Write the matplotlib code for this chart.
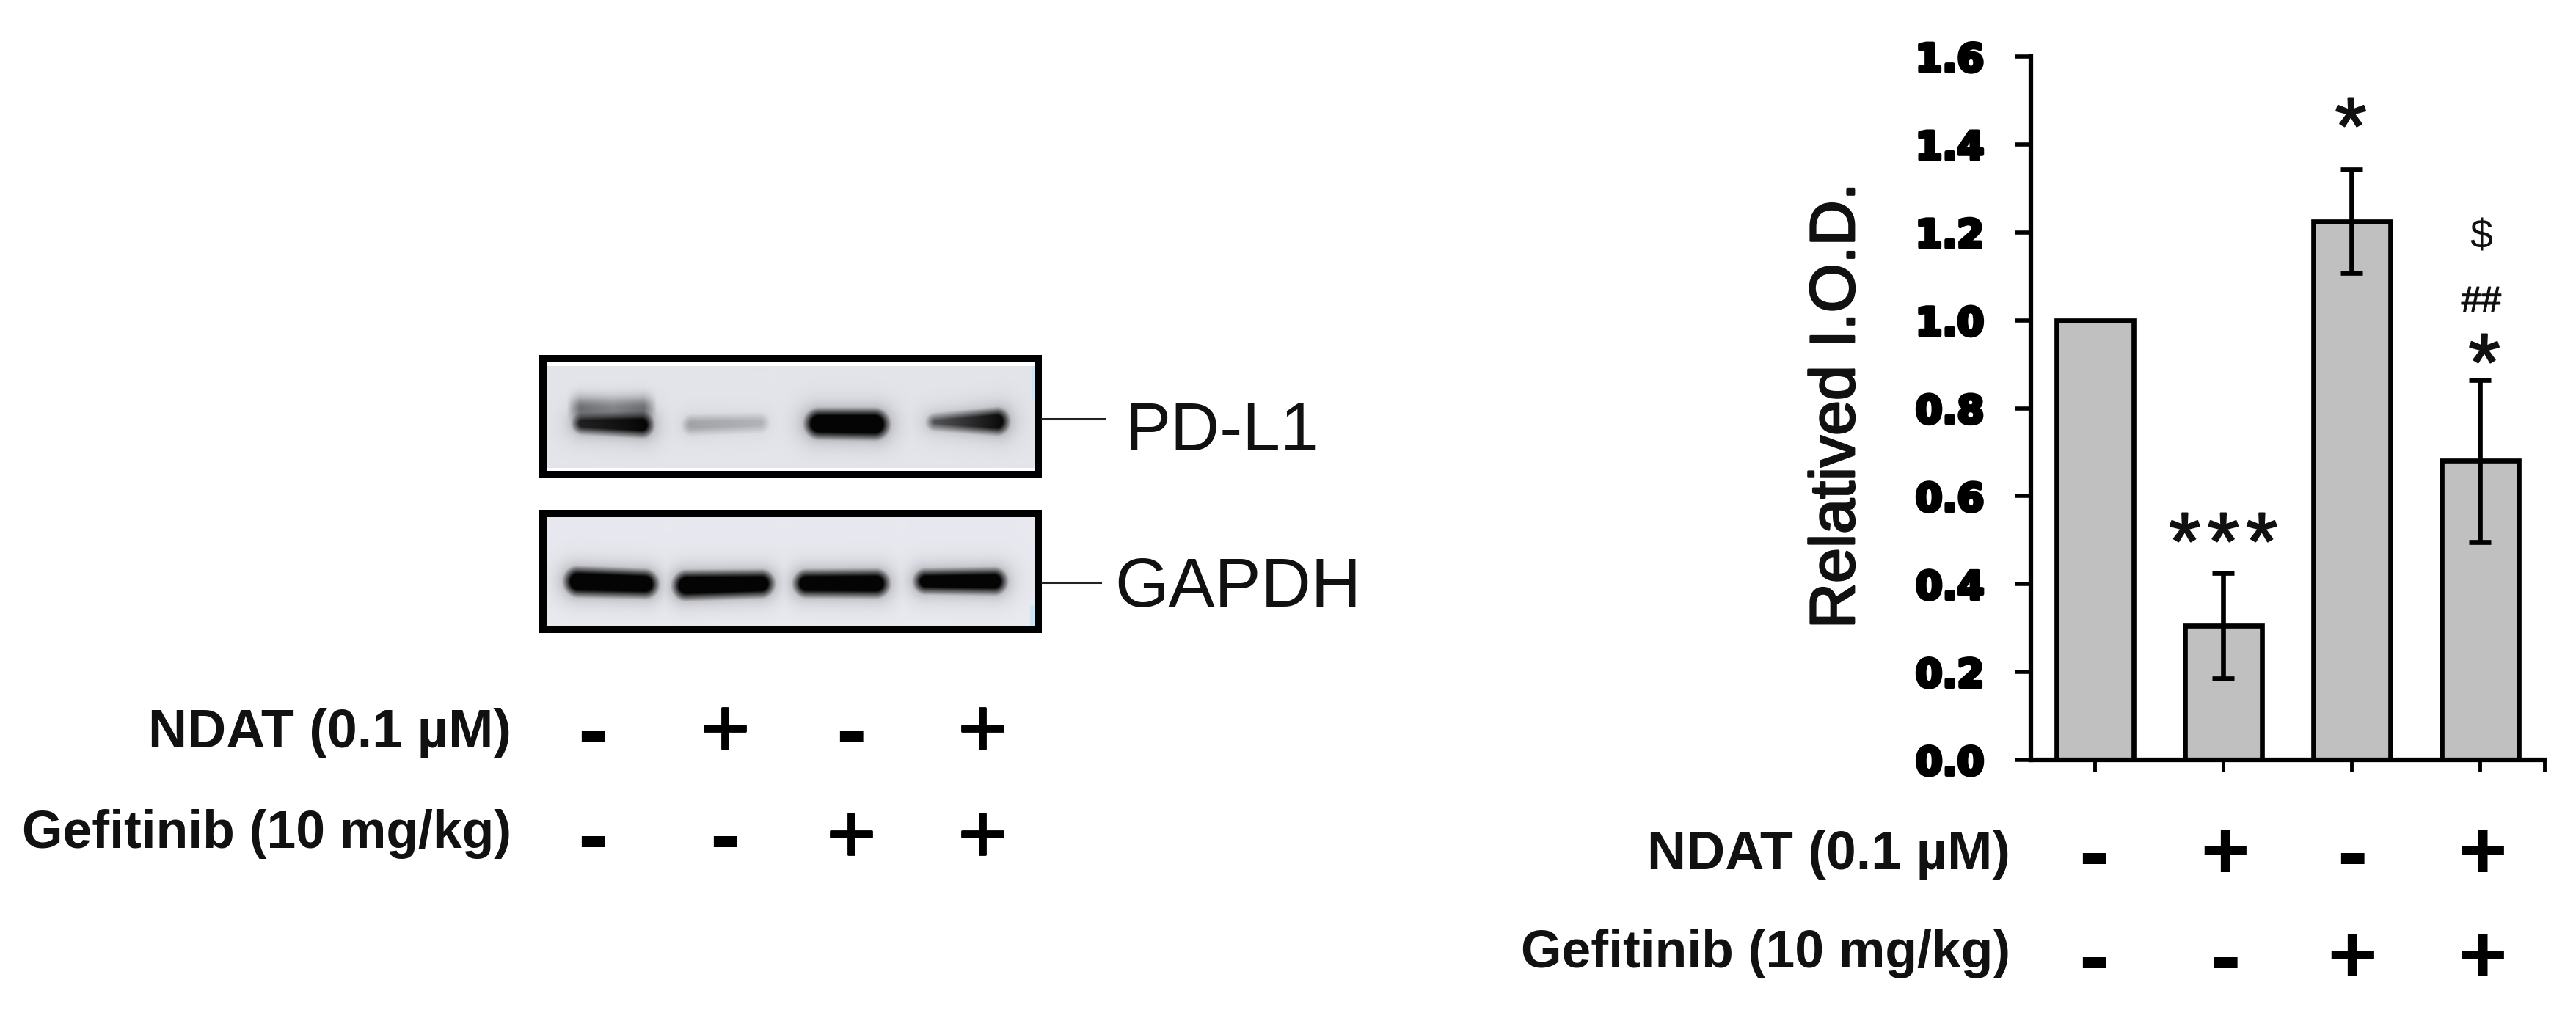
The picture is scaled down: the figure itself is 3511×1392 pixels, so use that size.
import numpy as np
import matplotlib
matplotlib.use('Agg')
import matplotlib.pyplot as plt
import matplotlib.patheffects as pe
from matplotlib.patches import Rectangle

W, H = 3512, 1392

# bar chart values
groups = [0, 1, 2, 3]
means = [1.0, 0.305, 1.225, 0.68]
errs = [0, 0.12, 0.118, 0.185]
yticks = [0.0, 0.2, 0.4, 0.6, 0.8, 1.0, 1.2, 1.4, 1.6]

# treatment rows
ndat = ['-', '+', '-', '+']
gefitinib = ['-', '-', '+', '+']

# blot band darkness, left and right side of each band
pdl1_left = [0.85, 0.30, 1.0, 0.62]
pdl1_right = [1.0, 0.22, 1.0, 1.0]
gapdh_left = [1.0, 1.0, 1.0, 1.0]
gapdh_right = [1.0, 1.0, 1.0, 1.0]

plt.rcParams['font.family'] = ['Liberation Sans', 'DejaVu Sans']
fig = plt.figure(figsize=(W / 100, H / 100), dpi=100, facecolor='white')

# whole figure axes in pixels, for the blot and the row labels
bg = fig.add_axes([0, 0, 1, 1])
bg.set_xlim(0, W)
bg.set_ylim(H, 0)
bg.axis('off')


def make_blot(y0, y1, lanes, left, right, top_col, bot_col):
    # each lane: x start, x end, y left, y right, half thickness left, half thickness right
    xs = np.arange(745, 1412)
    ys = np.arange(y0, y1)
    gx, gy = np.meshgrid(xs, ys)
    t = ((gy - y0) / (y1 - y0))[..., None]
    img = np.array(top_col) * (1 - t) + np.array(bot_col) * t
    dark = np.zeros(gx.shape)
    for (a, b, yl, yr, rl, rr), l, r in zip(lanes, left, right):
        u = np.clip((gx - a) / (b - a), 0, 1)
        amp = l + (r - l) * u
        rad = rl + (rr - rl) * u
        yc = yl + (yr - yl) * u
        dx = np.maximum(np.maximum(a + rad - gx, gx - (b - rad)), 0)
        d = np.hypot(dx, gy - yc) - rad
        core = np.clip(0.5 - d / 14, 0, 1)
        halo = 0.25 * np.exp(-np.maximum(d, 0) / 11)
        dark = np.maximum(dark, amp * np.maximum(core, halo))
    img = img * (1 - dark[..., None]) + 4 * dark[..., None]
    return np.clip(img / 255, 0, 1)


pd_lanes = [(782, 888, 577, 579, 11, 15), (932, 1045, 579, 576, 11, 10),
            (1098, 1210, 577, 578, 18, 19), (1265, 1373, 575, 574, 8, 17)]
ga_lanes = [(770, 895, 792, 796, 18, 17), (918, 1053, 798, 795, 18, 16),
            (1083, 1210, 795, 795, 16, 17), (1247, 1370, 792, 792, 14, 16)]

blot1 = make_blot(499, 638, pd_lanes, pdl1_left, pdl1_right, (228, 229, 235), (229, 230, 236))
blot2 = make_blot(705, 853, ga_lanes, gapdh_left, gapdh_right, (232, 233, 240), (234, 235, 240))

# smear above the first PD-L1 band
gx1, gy1 = np.meshgrid(np.arange(745, 1412), np.arange(499, 638))
smear = 0.5 * np.clip((gx1 - 772) / 18, 0, 1) * np.clip((895 - gx1) / 18, 0, 1) * np.exp(-((gy1 - 556) / 16) ** 2)
smear = smear * (0.72 + 0.28 * np.abs(gx1 - 835) / 55)
blot1 = blot1 * (1 - smear[..., None])

bg.imshow(blot1, extent=(745, 1412, 638, 499), aspect='auto', zorder=1)
bg.imshow(blot2, extent=(745, 1412, 853, 705), aspect='auto', zorder=1)
bg.set_xlim(0, W)
bg.set_ylim(H, 0)

bg.add_patch(Rectangle((1406, 499), 6, 45, color='#cfe4f3', lw=0, zorder=1.5))
bg.add_patch(Rectangle((1404, 825), 8, 28, color='#cfe4f3', lw=0, zorder=1.5))

for y0, y1 in [(489, 647), (700, 858)]:
    bg.add_patch(Rectangle((740, y0), 675, y1 - y0, fill=False, ec='black', lw=7.2, zorder=2))

bg.plot([1420, 1505], [571, 571], color='#222222', lw=2.2)
bg.plot([1420, 1500], [794, 794], color='#222222', lw=2.2)
bg.text(1533, 590, 'PD-L1', fontsize=67, ha='left', va='center', color='#111111')
bg.text(1519, 802, 'GAPDH', fontsize=68, ha='left', va='center', color='#111111')


def sign(x, y, s, heavy):
    if s == '+':
        bg.text(x, y, s, fontsize=82, fontweight='bold' if heavy else 'normal', ha='center', va='center',
                color='black', path_effects=[] if heavy else [pe.withStroke(linewidth=2, foreground='black')])
    else:
        bg.text(x, y + 2, s, fontsize=90, fontweight='bold', ha='center', va='center', color='black')


# left row labels
bg.text(697, 1000, 'NDAT (0.1 µM)', fontsize=53, fontweight='bold', ha='right', va='center', color='#111111')
bg.text(697, 1137, 'Gefitinib (10 mg/kg)', fontsize=51.5, fontweight='bold', ha='right', va='center', color='#111111')
for x, a, b in zip([808, 988, 1160, 1339], ndat, gefitinib):
    sign(x, 1002, a, False)
    sign(x, 1146, b, False)

# right row labels
bg.text(2740, 1165, 'NDAT (0.1 µM)', fontsize=53, fontweight='bold', ha='right', va='center', color='#111111')
bg.text(2740, 1300, 'Gefitinib (10 mg/kg)', fontsize=51.5, fontweight='bold', ha='right', va='center', color='#111111')
for x, a, b in zip([2854, 3033, 3206, 3384], ndat, gefitinib):
    sign(x, 1169, a, True)
    sign(x, 1311, b, True)

# bar chart
ax = fig.add_axes([2768 / W, 1 - 1036 / H, 700 / W, 959 / H], facecolor='none')
ax.bar(groups, means, width=0.6, color='#c0c0c0', edgecolor='black', linewidth=4.8)
ax.errorbar(groups[1:], means[1:], yerr=errs[1:], fmt='none', ecolor='black',
            elinewidth=4.8, capsize=11, capthick=4.8)
ax.set_xlim(-0.5, 3.5)
ax.set_ylim(0, 1.6)
for s in ['top', 'right']:
    ax.spines[s].set_visible(False)
for s in ['left', 'bottom']:
    ax.spines[s].set_linewidth(4.5)
ax.set_xticks(groups + [3.5])
ax.set_xticklabels([])
ax.tick_params(axis='x', length=11.5, width=3.5)
ax.set_yticks(yticks)
ax.set_yticklabels(['%.1f' % v for v in yticks], family='DejaVu Sans', fontweight='bold', fontsize=38,
                   path_effects=[pe.withStroke(linewidth=3.5, foreground='black')])
ax.tick_params(axis='y', length=15, width=4, pad=31)

bg.text(2505, 553, 'Relatived I.O.D.', rotation=90, fontsize=62, ha='center', va='center',
        color='#111111', path_effects=[pe.withStroke(linewidth=2, foreground='#111111')])

# significance marks
star = dict(fontsize=80, ha='center', va='center', color='#111111',
            path_effects=[pe.withStroke(linewidth=1.5, foreground='#111111')])
bg.text(3030, 747, '*\u200a*\u200a*', **star)
bg.text(3204, 181, '*', **star)
bg.text(3386, 503, '*', **star)
bg.text(3382, 412, '##', fontsize=35, ha='center', va='center', color='#111111',
        path_effects=[pe.withStroke(linewidth=1, foreground='#111111')])
bg.text(3382, 325, '$', fontsize=40, ha='center', va='center', color='#111111')

fig.savefig('out.png', dpi=100, facecolor='white')
